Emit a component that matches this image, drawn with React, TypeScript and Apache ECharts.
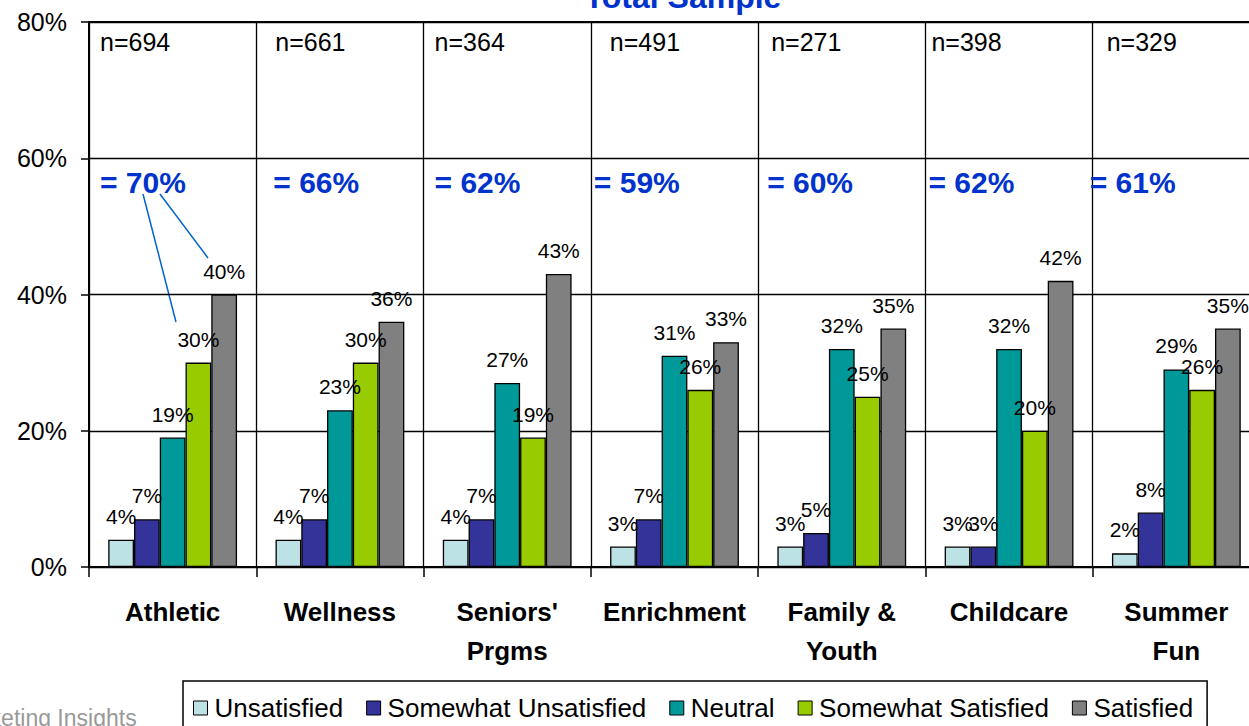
import React, { useEffect, useRef } from "react";
import * as echarts from "echarts";

const categories = ["Athletic", "Wellness", "Seniors'\nPrgms", "Enrichment", "Family &\nYouth", "Childcare", "Summer\nFun"];
const seriesNames = ["Unsatisfied", "Somewhat Unsatisfied", "Neutral", "Somewhat Satisfied", "Satisfied"];
const unsatisfied = [4, 4, 4, 3, 3, 3, 2];
const somewhatUnsatisfied = [7, 7, 7, 7, 5, 3, 8];
const neutral = [19, 23, 27, 31, 32, 32, 29];
const somewhatSatisfied = [30, 30, 19, 26, 25, 20, 26];
const satisfied = [40, 36, 43, 33, 35, 42, 35];
const sampleSizes = [694, 661, 364, 491, 271, 398, 329];
const combinedSatisfied = [70, 66, 62, 59, 60, 62, 61];
const yTicks = [0, 20, 40, 60, 80];

// layout constants (pixels from the category's left boundary)
const nLabelOffsets = [11, 19, 11, 19, 13, 6, 14];
const sumLabelOffsets = [11, 17, 11, 3, 9, 3, -3];
const colors = ["#BDE2E6", "#333399", "#009999", "#99CC00", "#808080"];

const FONT = "Liberation Sans, Arial, sans-serif";

export default function App() {
  const ref = useRef<HTMLDivElement>(null);
  useEffect(() => {
    if (!ref.current) return;
    const chart = echarts.init(ref.current, undefined, { renderer: "svg" });
    const gridLeft = 89;
    const gridWidth = 1171;
    const catW = gridWidth / categories.length;
    const values = [unsatisfied, somewhatUnsatisfied, neutral, somewhatSatisfied, satisfied];

    const barSeries = values.map((arr, i) => ({
      name: seriesNames[i],
      type: "bar",
      data: arr,
      barGap: "0%",
      barCategoryGap: "23%",
      itemStyle: { color: colors[i], borderColor: "#000", borderWidth: 1.3 },
      label: {
        show: true,
        position: "top",
        distance: 13,
        formatter: "{c}%",
        color: "#000",
        fontSize: 21,
        fontFamily: FONT,
      },
      silent: true,
    }));

    const nSeries = {
      name: "n",
      type: "scatter",
      symbolSize: 0,
      silent: true,
      itemStyle: { color: "transparent", opacity: 1 },
      data: sampleSizes.map((n, i) => ({
        value: [i, 77.1],
        label: { offset: [nLabelOffsets[i] - catW / 2, 0] },
      })),
      label: {
        show: true,
        position: "inside",
        align: "left",
        verticalAlign: "middle",
        formatter: (p: any) => "n=" + sampleSizes[p.dataIndex],
        color: "#000",
        fontSize: 25,
        fontFamily: FONT,
      },
    };

    const sumSeries = {
      name: "sum",
      type: "scatter",
      symbolSize: 0,
      silent: true,
      itemStyle: { color: "transparent", opacity: 1 },
      data: combinedSatisfied.map((v, i) => ({
        value: [i, 56.4],
        label: { offset: [sumLabelOffsets[i] - catW / 2, 0] },
      })),
      label: {
        show: true,
        position: "inside",
        align: "left",
        verticalAlign: "middle",
        formatter: (p: any) => "= " + combinedSatisfied[p.dataIndex] + "%",
        color: "#0033CC",
        fontSize: 30,
        fontWeight: "bold",
        fontFamily: FONT,
      },
    };

    chart.setOption({
      animation: false,
      backgroundColor: "#fff",
      textStyle: { fontFamily: FONT },
      grid: {
        left: gridLeft,
        top: 22,
        width: gridWidth,
        height: 545,
        show: true,
        borderColor: "#000",
        borderWidth: 2,
        containLabel: false,
      },
      xAxis: {
        type: "category",
        data: categories,
        axisLine: { show: true, lineStyle: { color: "#000", width: 2 } },
        axisTick: { show: true, length: 10, interval: 0, lineStyle: { color: "#000", width: 1.5 } },
        splitLine: { show: true, interval: 0, lineStyle: { color: "#000", width: 1.3 } },
        axisLabel: {
          interval: 0,
          color: "#000",
          fontSize: 26,
          fontWeight: "bold",
          fontFamily: FONT,
          lineHeight: 39,
          margin: 25,
        },
      },
      yAxis: {
        type: "value",
        min: yTicks[0],
        max: yTicks[yTicks.length - 1],
        interval: 20,
        axisLine: { show: true, lineStyle: { color: "#000", width: 1.5 } },
        axisTick: { show: true, length: 8, lineStyle: { color: "#000", width: 1.5 } },
        splitLine: { show: true, lineStyle: { color: "#000", width: 1.3 } },
        axisLabel: {
          formatter: "{value}%",
          color: "#000",
          fontSize: 25,
          fontFamily: FONT,
          margin: 22,
        },
      },
      legend: {
        data: seriesNames,
        left: 183,
        top: 681,
        padding: [14, 14, 20, 10],
        borderColor: "#000",
        borderWidth: 1.5,
        itemWidth: 14,
        itemHeight: 14,
        itemGap: 23,
        icon: "rect",
        selectedMode: false,
        itemStyle: { borderColor: "#000", borderWidth: 1 },
        textStyle: { color: "#000", fontSize: 26, fontFamily: FONT, padding: [0, 0, 0, 2] },
      },
      graphic: [
        {
          type: "text",
          x: 683,
          y: -3,
          style: {
            text: "Total Sample",
            fill: "#0033CC",
            font: "bold 32px " + FONT,
            align: "center",
            verticalAlign: "middle",
          },
        },
        {
          type: "text",
          x: -50,
          y: 718,
          style: {
            text: "Marketing Insights",
            fill: "#999999",
            font: "23px " + FONT,
            align: "left",
            verticalAlign: "middle",
          },
        },
        {
          type: "line",
          shape: { x1: 143, y1: 194, x2: 176, y2: 322 },
          style: { stroke: "#0066CC", lineWidth: 1.5 },
        },
        {
          type: "line",
          shape: { x1: 160, y1: 194, x2: 208, y2: 258 },
          style: { stroke: "#0066CC", lineWidth: 1.5 },
        },
      ],
      series: [...barSeries, nSeries, sumSeries],
    });
    return () => chart.dispose();
  }, []);
  return (
    <div
      ref={ref}
      style={{ position: "fixed", left: 0, top: 0, width: 1275, height: 726, background: "#fff" }}
    />
  );
}
